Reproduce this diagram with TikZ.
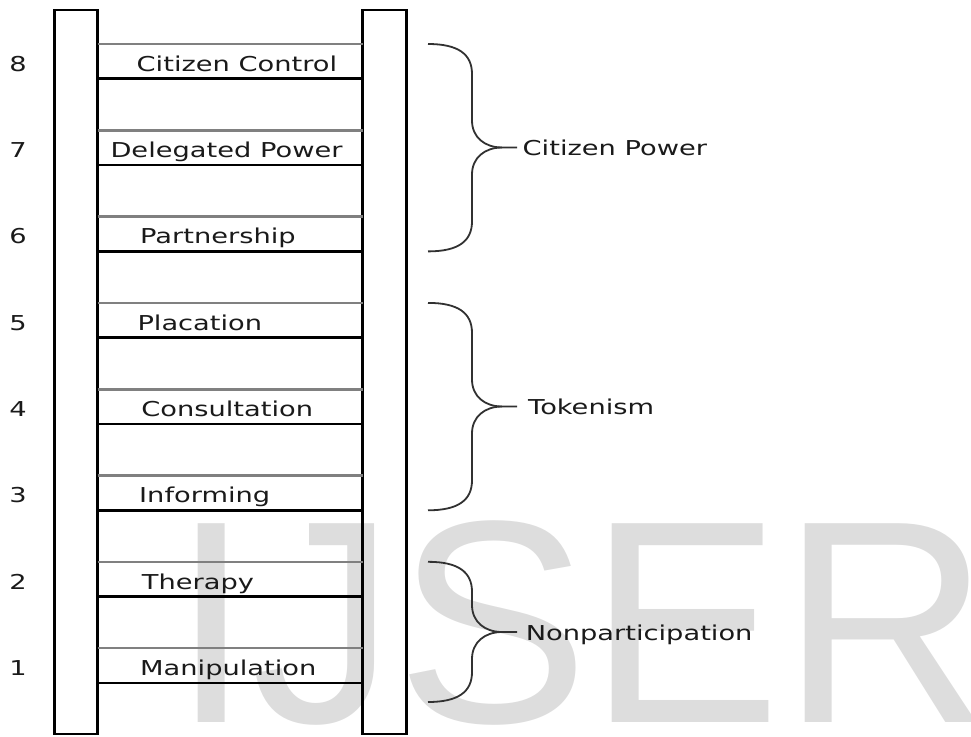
\documentclass[tikz,border=0pt]{standalone}
\usepackage{fontspec}
\newfontfamily\rungfont[FakeStretch=1.33]{DejaVu Sans}
\newfontfamily\markfont{Liberation Sans}
\definecolor{inkgray}{HTML}{1A1A1A}
\definecolor{runggray}{HTML}{808080}
\definecolor{wmgray}{HTML}{DDDDDD}
\begin{document}
\begin{tikzpicture}[x=1pt,y=-1pt,
  rail/.style={draw=black, line width=2.3pt, minimum height=724pt, inner sep=0pt, outer sep=0pt},
  upperrung/.style={draw=runggray, line width=2.6pt},
  lowerrung/.style={draw=black, line width=2.7pt},
  lbl/.style={font=\rungfont\fontsize{20.5}{24}\selectfont, text=inkgray, inner sep=0pt, anchor=base west},
  num/.style={font=\rungfont\fontsize{20.5}{24}\selectfont, text=inkgray, inner sep=0pt, anchor=base},
  bracestyle/.style={draw=inkgray!90, line width=1.8pt},
  ]
\useasboundingbox (0,0) rectangle (971,736);

% faint background mark
\node[font=\markfont\fontsize{289}{289}\selectfont, text=wmgray, inner sep=0pt, anchor=base west] (mark) at (171,722) {IJSER};

% the two ladder rails
\node[rail, minimum width=43pt] (lrail) at (76,372) {};
\node[rail, minimum width=44pt] (rrail) at (384.5,372) {};
\draw[line width=3.4pt] (lrail.north west) -- (lrail.south west);
\draw[line width=3pt] (rrail.north west) -- (rrail.south west);

% rungs: a grey upper line and a black lower line for each step, with its name and number
\foreach \i/\t/\x in {8/Citizen Control/136.5, 7/Delegated Power/110.3, 6/Partnership/140,
                      5/Placation/137.3, 4/Consultation/141.2, 3/Informing/139,
                      2/Therapy/141.7, 1/Manipulation/140} {
  \pgfmathsetmacro\g{44+86.3*(8-\i)}
  \pgfmathsetmacro\b{\g+34.8}
  \coordinate (top\i) at (0,\g);
  \coordinate (bot\i) at (0,\b);
  \draw[upperrung] (lrail.east |- top\i) -- (rrail.west |- top\i);
  \draw[lowerrung] (lrail.east |- bot\i) -- (rrail.west |- bot\i);
  \node[lbl] (rung\i) at (\x,\b-7.5) {\t};
  \node[num] (num\i) at (18,\b-7.5) {\i};
}

% braces grouping the steps
\foreach \yt/\yb/\ym/\nm/\t/\x in {44/251.4/147.5/cp/Citizen Power/522.5,
                                   302.9/510.3/406.5/tk/Tokenism/528,
                                   561.8/702/632/np/Nonparticipation/525.6} {
  \node[lbl] (\nm) at (\x,\ym+8) {\t};
  \coordinate (\nm tip) at (517,\ym);
  \draw[bracestyle] (428,\yt) .. controls (458,\yt) and (472,\yt+10) .. (472,\yt+30)
        -- (472,\ym-27) .. controls (472,\ym-10) and (485,\ym) .. (502,\ym) -- (\nm tip);
  \draw[bracestyle] (428,\yb) .. controls (458,\yb) and (472,\yb-10) .. (472,\yb-30)
        -- (472,\ym+27) .. controls (472,\ym+10) and (485,\ym) .. (502,\ym);
}
\end{tikzpicture}
\end{document}
